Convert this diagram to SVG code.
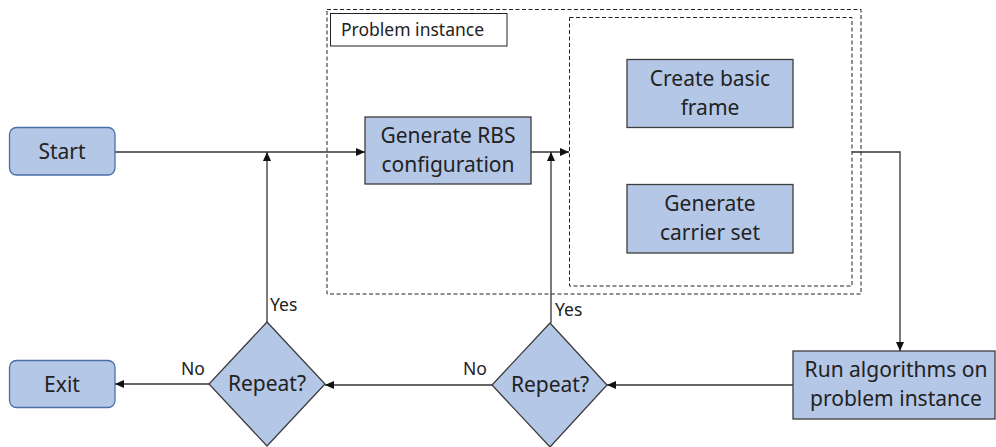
<svg xmlns="http://www.w3.org/2000/svg" width="996" height="447" viewBox="0 0 996 447">
  <style>
    .lbl { font-family: "Noto Sans", "Liberation Sans", sans-serif; fill: #222; }
    .big { font-size: 21px; }
    .small { font-size: 17.5px; }
    .term { fill: #b4c7e7; stroke: #4a6fa8; stroke-width: 1.3; }
    .proc { fill: #b4c7e7; stroke: #3c3c3c; stroke-width: 1.3; }
    .dash { fill: none; stroke: #222; stroke-width: 1; stroke-dasharray: 4 2.5; }
    .conn { fill: none; stroke: #333; stroke-width: 1.3; marker-end: url(#arrow); }
  </style>
  <defs>
    <marker id="arrow" markerWidth="10" markerHeight="8" refX="9" refY="4" orient="auto" markerUnits="userSpaceOnUse">
      <path d="M0,0 L9,4 L0,8 Z" fill="#111"/>
    </marker>
  </defs>

  <!-- grouping frames -->
  <g id="problem-instance">
    <rect class="dash" x="327" y="9.5" width="534" height="284.5"/>
    <rect x="330.5" y="13.5" width="176.5" height="32.5" fill="#fff" stroke="#222" stroke-width="1"/>
    <text class="lbl small" x="341" y="35.5">Problem instance</text>
  </g>
  <g id="frame-group">
    <rect class="dash" x="569.5" y="17.5" width="282.5" height="268.5"/>
  </g>

  <!-- connectors -->
  <g id="connectors">
    <path class="conn" d="M115,152 H365"/>
    <path class="conn" d="M531,152 H569"/>
    <path class="conn" d="M852,152 H900 V351"/>
    <path class="conn" d="M793,385 H607"/>
    <path class="conn" d="M492,385 H325"/>
    <path class="conn" d="M209,384 H115"/>
    <path class="conn" d="M267,322 V152"/>
    <path class="conn" d="M551,323 V152"/>
    <text class="lbl small" x="270" y="311">Yes</text>
    <text class="lbl small" x="555" y="316">Yes</text>
    <text class="lbl small" x="181" y="375">No</text>
    <text class="lbl small" x="463" y="375">No</text>
  </g>

  <g id="start">
    <rect class="term" x="9.5" y="127.5" width="105.5" height="47.5" rx="7"/>
    <text class="lbl big" x="62" y="159" text-anchor="middle">Start</text>
  </g>
  <g id="exit">
    <rect class="term" x="9.5" y="360.5" width="105.5" height="47" rx="7"/>
    <text class="lbl big" x="62" y="392" text-anchor="middle">Exit</text>
  </g>
  <g id="generate-rbs">
    <rect class="proc" x="365" y="117" width="166" height="67"/>
    <text class="lbl big" x="448" y="143" text-anchor="middle">Generate RBS</text>
    <text class="lbl big" x="448" y="172" text-anchor="middle">configuration</text>
  </g>
  <g id="create-frame">
    <rect class="proc" x="627" y="59.5" width="166" height="68"/>
    <text class="lbl big" x="710" y="86" text-anchor="middle">Create basic</text>
    <text class="lbl big" x="710" y="115" text-anchor="middle">frame</text>
  </g>
  <g id="carrier-set">
    <rect class="proc" x="627" y="184.5" width="166" height="68.5"/>
    <text class="lbl big" x="710" y="211" text-anchor="middle">Generate</text>
    <text class="lbl big" x="710" y="240" text-anchor="middle">carrier set</text>
  </g>
  <g id="run-algorithms">
    <rect class="proc" x="793" y="351" width="202" height="68"/>
    <text class="lbl big" x="896" y="377" text-anchor="middle">Run algorithms on</text>
    <text class="lbl big" x="896" y="406" text-anchor="middle">problem instance</text>
  </g>
  <g id="repeat-outer">
    <polygon class="proc" points="267,322 325,384 267,446 209,384"/>
    <text class="lbl big" x="267" y="391" text-anchor="middle">Repeat?</text>
  </g>
  <g id="repeat-inner">
    <polygon class="proc" points="550,323 607,385 550,447 492,385"/>
    <text class="lbl big" x="550" y="392" text-anchor="middle">Repeat?</text>
  </g>
</svg>
